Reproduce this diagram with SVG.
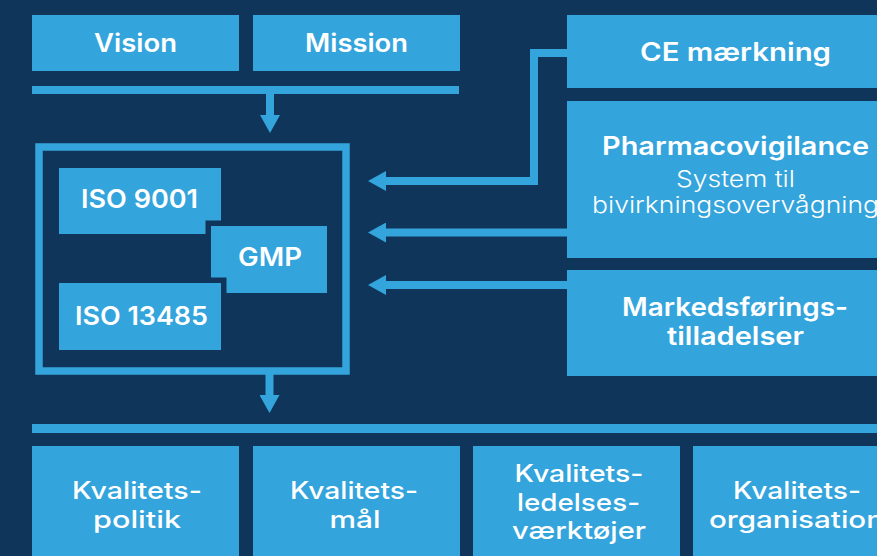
<svg xmlns="http://www.w3.org/2000/svg" width="877" height="556" viewBox="0 0 877 556">
<defs>
<style>
.bg{fill:#10355A}
.box{fill:#33A4DC}
.cut{fill:#33A4DC;stroke:#10355A;stroke-width:11;paint-order:stroke}
.frame{fill:none;stroke:#33A4DC;stroke-width:7.5}
.t{font-family:Inter,"Open Sans",sans-serif;font-weight:600;fill:#FFFFFF;text-anchor:middle;font-size:25px}
.r{font-weight:300;font-size:23px}
.m{font-weight:500;font-size:24px}
.ln{stroke:#33A4DC;stroke-width:8;fill:none}
.bar{fill:#33A4DC}
</style>
<marker id="ah" markerUnits="userSpaceOnUse" markerWidth="18" markerHeight="20" viewBox="0 0 18 20" refX="0" refY="10" orient="auto">
<path d="M0,0L18,10L0,20z" fill="#33A4DC"/>
</marker>
</defs>
<rect class="bg" width="877" height="556"/>

<g id="connectors">
<rect class="bar" x="32" y="86" width="427" height="8"/>
<path class="ln" d="M270,94V115" marker-end="url(#ah)"/>
<path class="ln" d="M567,53H534V181H386" marker-end="url(#ah)"/>
<path class="ln" d="M567,232.5H386" marker-end="url(#ah)"/>
<path class="ln" d="M567,285H386" marker-end="url(#ah)"/>
<path class="ln" d="M269.5,374V395" marker-end="url(#ah)"/>
<rect class="bar" x="32" y="424" width="850" height="9"/>
</g>

<g id="vision">
<rect class="box" x="32" y="15" width="207" height="56"/>
<text class="t" x="135.5" y="52" textLength="83" lengthAdjust="spacingAndGlyphs">Vision</text>
</g>
<g id="mission">
<rect class="box" x="253" y="15" width="207" height="56"/>
<text class="t" x="356.5" y="52" textLength="103" lengthAdjust="spacingAndGlyphs">Mission</text>
</g>

<g id="ce">
<rect class="box" x="567" y="15" width="336" height="73"/>
<text class="t" x="735.5" y="61" textLength="191" lengthAdjust="spacingAndGlyphs">CE mærkning</text>
</g>
<g id="pharmacovigilance">
<rect class="box" x="567" y="101" width="336" height="157"/>
<text class="t" x="735.5" y="155" textLength="267" lengthAdjust="spacingAndGlyphs">Pharmacovigilance</text>
<text class="t r" x="735.5" y="187" textLength="119" lengthAdjust="spacingAndGlyphs">System til</text>
<text class="t r" x="735.5" y="213" textLength="287" lengthAdjust="spacingAndGlyphs">bivirkningsovervågning</text>
</g>
<g id="markedsforing">
<rect class="box" x="567" y="270" width="336" height="106"/>
<text class="t" x="735" y="316" textLength="226" lengthAdjust="spacingAndGlyphs">Markedsførings-</text>
<text class="t" x="735.5" y="345" textLength="137" lengthAdjust="spacingAndGlyphs">tilladelser</text>
</g>

<g id="standards">
<rect class="frame" x="39" y="147" width="307" height="224"/>
</g>
<g id="iso9001">
<rect class="box" x="59" y="168" width="162" height="66"/>
<text class="t" x="139.5" y="208" textLength="117" lengthAdjust="spacingAndGlyphs">ISO 9001</text>
</g>
<g id="gmp">
<rect class="cut" x="211" y="226" width="116" height="67"/>
<text class="t" x="270" y="266" textLength="64" lengthAdjust="spacingAndGlyphs">GMP</text>
</g>
<g id="iso13485">
<rect class="cut" x="59" y="283" width="162" height="67"/>
<text class="t" x="141.5" y="325" textLength="133" lengthAdjust="spacingAndGlyphs">ISO 13485</text>
</g>

<g id="kvalitetspolitik">
<rect class="box" x="32" y="446" width="207" height="120"/>
<text class="t m" x="137" y="499" textLength="130" lengthAdjust="spacingAndGlyphs">Kvalitets-</text>
<text class="t m" x="137" y="528" textLength="88" lengthAdjust="spacingAndGlyphs">politik</text>
</g>
<g id="kvalitetsmaal">
<rect class="box" x="253" y="446" width="207" height="120"/>
<text class="t m" x="354" y="499" textLength="128" lengthAdjust="spacingAndGlyphs">Kvalitets-</text>
<text class="t m" x="355" y="528" textLength="51" lengthAdjust="spacingAndGlyphs">mål</text>
</g>
<g id="ledelsesvaerktoejer">
<rect class="box" x="473" y="446" width="207" height="120"/>
<text class="t m" x="579" y="482" textLength="129" lengthAdjust="spacingAndGlyphs">Kvalitets-</text>
<text class="t m" x="578.5" y="511" textLength="123" lengthAdjust="spacingAndGlyphs">ledelses-</text>
<text class="t m" x="579" y="539" textLength="134" lengthAdjust="spacingAndGlyphs">værktøjer</text>
</g>
<g id="kvalitetsorganisation">
<rect class="box" x="693" y="446" width="207" height="120"/>
<text class="t m" x="797" y="499" textLength="128" lengthAdjust="spacingAndGlyphs">Kvalitets-</text>
<text class="t m" x="796.5" y="528" textLength="175" lengthAdjust="spacingAndGlyphs">organisation</text>
</g>
</svg>
